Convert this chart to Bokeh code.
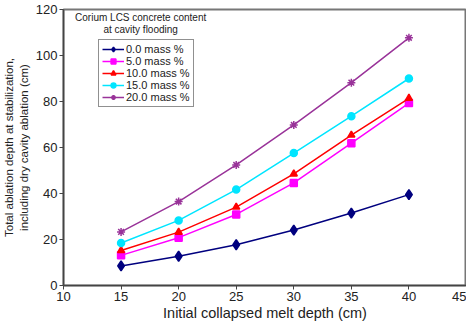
from bokeh.plotting import figure
from bokeh.models import Range1d, Legend, LegendItem, Label, FixedTicker
from bokeh.embed import file_html
from bokeh.resources import INLINE

depth = [15, 20, 25, 30, 35, 40]
s00 = [8.5, 12.7, 17.7, 24.1, 31.5, 39.5]
s05 = [13.1, 20.8, 30.9, 44.6, 61.9, 79.3]
s10 = [15.2, 23.2, 34.1, 48.5, 65.4, 81.4]
s15 = [18.5, 28.3, 41.7, 57.6, 73.6, 90.0]
s20 = [23.3, 36.5, 52.4, 69.8, 88.2, 107.7]
labels = ["0.0 mass %", "5.0 mass %", "10.0 mass %", "15.0 mass %", "20.0 mass %"]
x_ticks = [10, 15, 20, 25, 30, 35, 40, 45]
y_ticks = [0, 20, 40, 60, 80, 100, 120]

FONT = "Liberation Sans"

p = figure(frame_width=403, frame_height=276, output_backend="svg", toolbar_location=None,
           x_range=Range1d(10, 45), y_range=Range1d(0, 120),
           min_border_left=59, min_border_right=0, min_border_top=9, min_border_bottom=0)
p.xgrid.visible = False
p.ygrid.visible = False
p.outline_line_color = "#777777"
p.outline_line_width = 2

for ax in (p.xaxis[0], p.yaxis[0]):
    ax.axis_line_color = "#444444"
    ax.axis_line_width = 1.5
    ax.major_tick_line_color = "#444444"
    ax.major_tick_out = 4
    ax.major_tick_in = 0
    ax.minor_tick_line_color = None
    ax.major_label_text_font = FONT
    ax.major_label_text_font_size = "13px"
    ax.major_label_text_color = "#222222"
    ax.axis_label_text_font = FONT
    ax.axis_label_text_font_style = "normal"
    ax.axis_label_text_color = "#222222"
    ax.major_label_standoff = 2
    ax.axis_label_standoff = 1

p.yaxis.axis_label_standoff = 3
p.xaxis.axis_label_text_font_size = "14.5px"
p.yaxis.axis_label_text_font_size = "11.5px"
p.xaxis.ticker = FixedTicker(ticks=x_ticks)
p.yaxis.ticker = FixedTicker(ticks=y_ticks)
p.xaxis.axis_label = "Initial collapsed melt depth (cm)"
p.yaxis.axis_label = "Total ablation depth at stabilization,\nincluding dry cavity ablation (cm)"

series = [
    (s00, "#00007F", "diamond", 10),
    (s05, "#FF00FF", "square", 7),
    (s10, "#FF0000", "triangle", 7),
    (s15, "#00E5FF", "circle", 7),
    (s20, "#993399", "asterisk", 8),
]
items = []
for (vals, col, mk, sz), lab in zip(series, labels):
    r1 = p.line(depth, vals, line_color=col, line_width=1.5)
    r2 = p.scatter(depth, vals, marker=mk, size=sz, fill_color=col, line_color=col, line_width=1.5)
    items.append(LegendItem(label=lab, renderers=[r1, r2]))

leg = Legend(items=items, location=(35, 178), border_line_color="#222222", border_line_width=1,
             label_text_font=FONT, label_text_font_size="11px", label_text_color="#222222",
             glyph_height=12, glyph_width=22, label_height=12, spacing=0,
             padding=3, margin=0, background_fill_alpha=1, label_standoff=2)
p.add_layout(leg, "center")

p.add_layout(Label(x=16.7, y=116.5, text="Corium LCS concrete content", text_align="center",
                   text_baseline="middle", text_font=FONT, text_font_size="10px", text_color="#222222"))
p.add_layout(Label(x=16.7, y=111.3, text="at cavity flooding", text_align="center",
                   text_baseline="middle", text_font=FONT, text_font_size="10px", text_color="#222222"))

open("out.html", "w").write(file_html(p, INLINE))
